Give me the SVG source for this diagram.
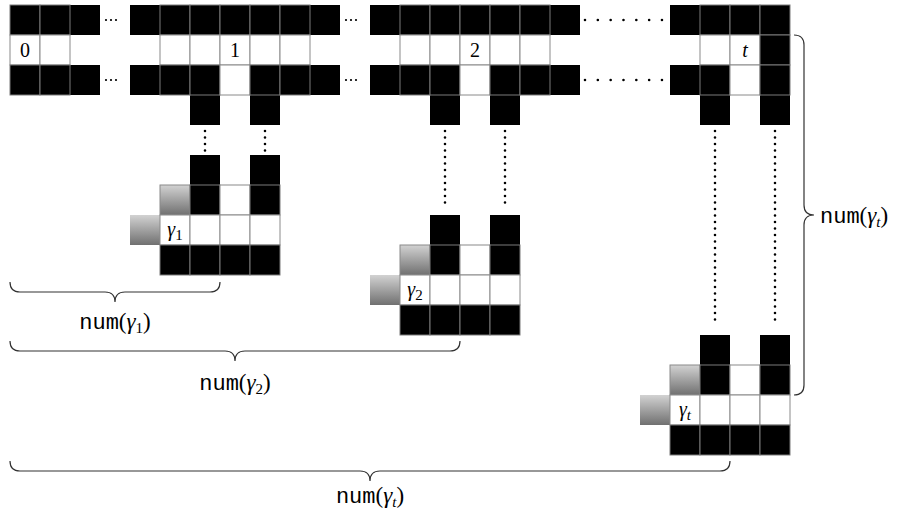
<svg xmlns="http://www.w3.org/2000/svg" xmlns:xlink="http://www.w3.org/1999/xlink" width="904" height="513" viewBox="0 0 904 513">
<style>
.k{fill:#000;stroke:none}
.kb{fill:#000;stroke:#7a7a7a;stroke-width:1}
.w{fill:#fff;stroke:#8a8a8a;stroke-width:1}
.g{fill:url(#shade);stroke:#8a8a8a;stroke-width:1}
.gn{fill:url(#shade);stroke:none}
.dot{stroke:#000;stroke-linecap:round;fill:none}
.brace{fill:none;stroke:#333;stroke-width:1.2}
.cell{font-family:"Liberation Serif","DejaVu Serif",serif;font-size:20px;text-anchor:middle;fill:#000}
.lab{font-family:"Liberation Serif","DejaVu Serif",serif;font-size:23px;fill:#000}
.tt{font-family:"Liberation Mono","DejaVu Sans Mono",monospace;font-size:22px}
.it{font-style:italic}
.sub{font-size:15px}
</style>
<defs>
<linearGradient id="shade" x1="0" y1="0" x2="0" y2="1">
<stop offset="0" stop-color="#d2d2d2"/>
<stop offset="1" stop-color="#707070"/>
</linearGradient>
<g id="gammaShape">
<rect class="k" x="190" y="155" width="30" height="30"/>
<rect class="k" x="250" y="155" width="30" height="30"/>
<rect class="gn" x="130" y="215" width="30" height="30"/>
<rect class="g" x="160" y="185" width="30" height="30"/>
<rect class="kb" x="190" y="185" width="30" height="30"/>
<rect class="w" x="220" y="185" width="30" height="30"/>
<rect class="kb" x="250" y="185" width="30" height="30"/>
<rect class="w" x="160" y="215" width="30" height="30"/>
<rect class="w" x="190" y="215" width="30" height="30"/>
<rect class="w" x="220" y="215" width="30" height="30"/>
<rect class="w" x="250" y="215" width="30" height="30"/>
<rect class="kb" x="160" y="245" width="30" height="30"/>
<rect class="kb" x="190" y="245" width="30" height="30"/>
<rect class="kb" x="220" y="245" width="30" height="30"/>
<rect class="kb" x="250" y="245" width="30" height="30"/>
</g>
</defs>
<rect x="0" y="0" width="904" height="513" fill="#fff"/>

<g id="block-0">
<rect class="k" x="70" y="5" width="30" height="30"/>
<rect class="k" x="70" y="65" width="30" height="30"/>
<rect class="kb" x="10" y="5" width="30" height="30"/>
<rect class="kb" x="40" y="5" width="30" height="30"/>
<rect class="w" x="10" y="35" width="30" height="30"/>
<rect class="w" x="40" y="35" width="30" height="30"/>
<rect class="kb" x="10" y="65" width="30" height="30"/>
<rect class="kb" x="40" y="65" width="30" height="30"/>
<text class="cell" x="25" y="57">0</text>
</g>

<g id="block-1">
<rect class="k" x="130" y="5" width="30" height="30"/>
<rect class="k" x="130" y="65" width="30" height="30"/>
<rect class="k" x="310" y="5" width="30" height="30"/>
<rect class="k" x="310" y="65" width="30" height="30"/>
<rect class="k" x="190" y="95" width="30" height="30"/>
<rect class="k" x="250" y="95" width="30" height="30"/>
<rect class="kb" x="160" y="5" width="30" height="30"/>
<rect class="kb" x="190" y="5" width="30" height="30"/>
<rect class="kb" x="220" y="5" width="30" height="30"/>
<rect class="kb" x="250" y="5" width="30" height="30"/>
<rect class="kb" x="280" y="5" width="30" height="30"/>
<rect class="w" x="160" y="35" width="30" height="30"/>
<rect class="w" x="190" y="35" width="30" height="30"/>
<rect class="w" x="220" y="35" width="30" height="30"/>
<rect class="w" x="250" y="35" width="30" height="30"/>
<rect class="w" x="280" y="35" width="30" height="30"/>
<rect class="kb" x="160" y="65" width="30" height="30"/>
<rect class="kb" x="190" y="65" width="30" height="30"/>
<rect class="w" x="220" y="65" width="30" height="30"/>
<rect class="kb" x="250" y="65" width="30" height="30"/>
<rect class="kb" x="280" y="65" width="30" height="30"/>
<text class="cell" x="235" y="57">1</text>
</g>

<g id="block-2">
<rect class="k" x="370" y="5" width="30" height="30"/>
<rect class="k" x="370" y="65" width="30" height="30"/>
<rect class="k" x="550" y="5" width="30" height="30"/>
<rect class="k" x="550" y="65" width="30" height="30"/>
<rect class="k" x="430" y="95" width="30" height="30"/>
<rect class="k" x="490" y="95" width="30" height="30"/>
<rect class="kb" x="400" y="5" width="30" height="30"/>
<rect class="kb" x="430" y="5" width="30" height="30"/>
<rect class="kb" x="460" y="5" width="30" height="30"/>
<rect class="kb" x="490" y="5" width="30" height="30"/>
<rect class="kb" x="520" y="5" width="30" height="30"/>
<rect class="w" x="400" y="35" width="30" height="30"/>
<rect class="w" x="430" y="35" width="30" height="30"/>
<rect class="w" x="460" y="35" width="30" height="30"/>
<rect class="w" x="490" y="35" width="30" height="30"/>
<rect class="w" x="520" y="35" width="30" height="30"/>
<rect class="kb" x="400" y="65" width="30" height="30"/>
<rect class="kb" x="430" y="65" width="30" height="30"/>
<rect class="w" x="460" y="65" width="30" height="30"/>
<rect class="kb" x="490" y="65" width="30" height="30"/>
<rect class="kb" x="520" y="65" width="30" height="30"/>
<text class="cell" x="475" y="57">2</text>
</g>

<g id="block-t">
<rect class="k" x="670" y="5" width="30" height="30"/>
<rect class="k" x="670" y="65" width="30" height="30"/>
<rect class="k" x="700" y="95" width="30" height="30"/>
<rect class="k" x="760" y="95" width="30" height="30"/>
<rect class="kb" x="700" y="5" width="30" height="30"/>
<rect class="kb" x="730" y="5" width="30" height="30"/>
<rect class="kb" x="760" y="5" width="30" height="30"/>
<rect class="w" x="700" y="35" width="30" height="30"/>
<rect class="w" x="730" y="35" width="30" height="30"/>
<rect class="kb" x="760" y="35" width="30" height="30"/>
<rect class="kb" x="700" y="65" width="30" height="30"/>
<rect class="w" x="730" y="65" width="30" height="30"/>
<rect class="kb" x="760" y="65" width="30" height="30"/>
<text class="cell it" x="745" y="57">t</text>
</g>

<g id="gamma-1">
<use xlink:href="#gammaShape" href="#gammaShape"/>
<text class="cell" x="175" y="236"><tspan class="it">γ</tspan><tspan class="sub" dy="4">1</tspan></text>
</g>

<g id="gamma-2" transform="translate(240,60)">
<use xlink:href="#gammaShape" href="#gammaShape"/>
<text class="cell" x="175" y="236"><tspan class="it">γ</tspan><tspan class="sub" dy="4">2</tspan></text>
</g>

<g id="gamma-t" transform="translate(510,180)">
<use xlink:href="#gammaShape" href="#gammaShape"/>
<text class="cell" x="175" y="236"><tspan class="it">γ</tspan><tspan class="sub it" dy="4">t</tspan></text>
</g>

<g id="connectors">
<line class="dot" x1="106" y1="20" x2="121" y2="20" stroke-width="2.2" stroke-dasharray="0 5"/>
<line class="dot" x1="106" y1="80" x2="121" y2="80" stroke-width="2.2" stroke-dasharray="0 5"/>
<line class="dot" x1="346" y1="20" x2="361" y2="20" stroke-width="2.2" stroke-dasharray="0 5"/>
<line class="dot" x1="346" y1="80" x2="361" y2="80" stroke-width="2.2" stroke-dasharray="0 5"/>
<line class="dot" x1="585" y1="20" x2="662" y2="20" stroke-width="2.6" stroke-dasharray="0 12.83"/>
<line class="dot" x1="585" y1="80" x2="662" y2="80" stroke-width="2.6" stroke-dasharray="0 12.83"/>
<line class="dot" x1="205" y1="131" x2="205" y2="151" stroke-width="2.6" stroke-dasharray="0 6.5"/>
<line class="dot" x1="265" y1="131" x2="265" y2="151" stroke-width="2.6" stroke-dasharray="0 6.5"/>
<line class="dot" x1="445" y1="131" x2="445" y2="209" stroke-width="2.6" stroke-dasharray="0 6.5"/>
<line class="dot" x1="505" y1="131" x2="505" y2="209" stroke-width="2.6" stroke-dasharray="0 6.5"/>
<line class="dot" x1="715" y1="131" x2="715" y2="326" stroke-width="2.6" stroke-dasharray="0 6.5"/>
<line class="dot" x1="775" y1="131" x2="775" y2="326" stroke-width="2.6" stroke-dasharray="0 6.5"/>
</g>

<g id="braces">
<path class="brace" d="M10,282 Q10,292 20,292 L105,292 Q115,292 115,302 Q115,292 125,292 L210,292 Q220,292 220,282"/>
<path class="brace" d="M10,341 Q10,351 20,351 L225,351 Q235,351 235,361 Q235,351 245,351 L450,351 Q460,351 460,341"/>
<path class="brace" d="M10,461 Q10,471 20,471 L360,471 Q370,471 370,481 Q370,471 380,471 L720,471 Q730,471 730,461"/>
<path class="brace" d="M794,35 Q804,35 804,45 L804,205 Q804,215 814,215 Q804,215 804,225 L804,385 Q804,395 794,395"/>
</g>

<g id="labels">
<text class="lab" x="115" y="329" text-anchor="middle"><tspan class="tt">num</tspan>(<tspan class="it">γ</tspan><tspan class="sub" dy="4">1</tspan><tspan dy="-4">)</tspan></text>
<text class="lab" x="235" y="390" text-anchor="middle"><tspan class="tt">num</tspan>(<tspan class="it">γ</tspan><tspan class="sub" dy="4">2</tspan><tspan dy="-4">)</tspan></text>
<text class="lab" x="370" y="503" text-anchor="middle"><tspan class="tt">num</tspan>(<tspan class="it">γ</tspan><tspan class="sub it" dy="4">t</tspan><tspan dy="-4">)</tspan></text>
<text class="lab" x="820" y="223"><tspan class="tt">num</tspan>(<tspan class="it">γ</tspan><tspan class="sub it" dy="4">t</tspan><tspan dy="-4">)</tspan></text>
</g>
</svg>
